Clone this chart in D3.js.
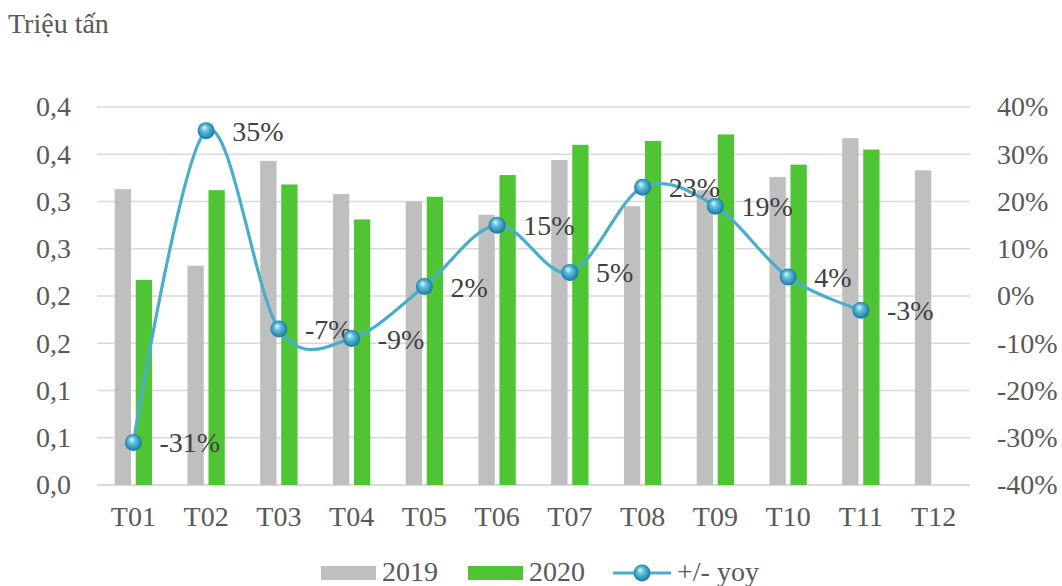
<!DOCTYPE html>
<html>
<head>
<meta charset="utf-8">
<script src="https://cdn.jsdelivr.net/npm/d3@7"></script>
<style>
  body { margin: 0; background: #fff; }
  #chart { width: 1062px; height: 586px; }
  text { font-family: 'Liberation Serif', 'Times New Roman', serif; }
</style>
</head>
<body>
<div id="chart"></div>
<script>
'use strict';

// values
const months = [ 'T01', 'T02', 'T03', 'T04', 'T05', 'T06', 'T07', 'T08', 'T09', 'T10', 'T11', 'T12' ];
const values2019 = [ 0.313, 0.232, 0.343, 0.308, 0.300, 0.286, 0.344, 0.295, 0.312, 0.326, 0.367, 0.333 ];
const values2020 = [ 0.217, 0.312, 0.318, 0.281, 0.305, 0.328, 0.360, 0.364, 0.371, 0.339, 0.355 ];
const yoyValues = [ -0.31, 0.35, -0.07, -0.09, 0.02, 0.15, 0.05, 0.23, 0.19, 0.04, -0.03 ];

const leftTicks = [ 0, 0.05, 0.1, 0.15, 0.2, 0.25, 0.3, 0.35, 0.4 ];
const leftTickLabels = [ '0,0', '0,1', '0,1', '0,2', '0,2', '0,3', '0,3', '0,4', '0,4' ];
const rightTicks = [ -0.4, -0.3, -0.2, -0.1, 0, 0.1, 0.2, 0.3, 0.4 ];
const rightTickLabels = [ '-40%', '-30%', '-20%', '-10%', '0%', '10%', '20%', '30%', '40%' ];

const seriesNames = [ '2019', '2020', '+/- yoy' ];
const unitLabel = 'Triệu tấn';


var config = {
    selector: '#chart',
    width: 1062,
    height: 586,
    left: 97,
    right: 970,
    top: 107,
    bottom: 485,
    fontSize: 28,
    fontFamily: "'Liberation Serif', 'Times New Roman', serif",
    textColor: '#595959',
    labelColor: '#404040',
    gridColor: '#d9d9d9',
    grayColor: '#bfbfbf',
    greenColor: '#4fc536',
    lineColor: '#4aaecb'
};


var Chart = function( config ) {
    var self = this;

    self.config = config;

    self.x = d3.scaleBand().domain( months ).range( [ config.left, config.right ] ).padding( 0 );

    // two bars per month, 16px each with a small gap, centred on the month
    var half = self.x.bandwidth() * 0.2565;
    self.inner = d3.scaleBand().domain( [ '2019', '2020' ] ).range( [ -half, half ] ).paddingInner( 0.224 ).paddingOuter( 0 );

    self.y = d3.scaleLinear().domain( [ 0, 0.4 ] ).range( [ config.bottom, config.top ] );

    self.y2 = d3.scaleLinear().domain( [ -0.4, 0.4 ] ).range( [ config.bottom, config.top ] );

    self.svg = null;
};


Chart.prototype.cx = function( m ) { return this.x( m ) + this.x.bandwidth() / 2; };

Chart.prototype.init = function() {
    var c = this.config;

    this.svg = d3.select( c.selector ).append('svg')
        .attr('width', c.width)
        .attr('height', c.height)
        .attr('font-family', c.fontFamily);

    var defs = this.svg.append('defs');
    var grad = defs.append('radialGradient')
        .attr('id', 'ball')
        .attr('cx', '50%').attr('cy', '50%').attr('r', '55%')
        .attr('fx', '38%').attr('fy', '30%');
    grad.append('stop').attr('offset', '0%').attr('stop-color', '#e4f8fd');
    grad.append('stop').attr('offset', '35%').attr('stop-color', '#62c2df');
    grad.append('stop').attr('offset', '80%').attr('stop-color', '#2789b1');
    grad.append('stop').attr('offset', '100%').attr('stop-color', '#1b6586');
};

Chart.prototype.drawAxes = function() {
    var c = this.config;
    var self = this;

    // gridlines
    this.svg.append('g')
        .attr('class', 'grid')
        .selectAll('line')
        .data( leftTicks )
        .enter()
            .append('line')
            .attr('x1', c.left)
            .attr('x2', c.right)
            .attr('y1', function( d ) { return self.y( d ); })
            .attr('y2', function( d ) { return self.y( d ); })
            .attr('stroke', c.gridColor)
            .attr('stroke-width', function( d ) { return d === 0 ? 2.2 : 1.5; });

    var left = this.svg.append('g')
        .attr('transform', 'translate(' + c.left + ',0)')
        .call( d3.axisLeft( this.y ).tickValues( leftTicks ).tickSize( 0 ).tickPadding( 26 )
            .tickFormat( function( d, i ) { return leftTickLabels[ i ]; }) );

    var right = this.svg.append('g')
        .attr('transform', 'translate(' + c.right + ',0)')
        .call( d3.axisRight( this.y2 ).tickValues( rightTicks ).tickSize( 0 ).tickPadding( 27 )
            .tickFormat( function( d, i ) { return rightTickLabels[ i ]; }) );

    var bottom = this.svg.append('g')
        .attr('transform', 'translate(0,' + c.bottom + ')')
        .call( d3.axisBottom( this.x ).tickSize( 0 ).tickPadding( 21 ) );

    [ left, right, bottom ].forEach( function( g ) {
        g.attr('font-family', c.fontFamily).attr('font-size', c.fontSize);
        g.select('.domain').remove();
        g.selectAll('text').attr('fill', c.textColor);
    });

    this.svg.append('text')
        .attr('x', 8)
        .attr('y', 33)
        .attr('font-size', c.fontSize)
        .attr('fill', c.textColor)
        .text( unitLabel );
};

Chart.prototype.drawBars = function() {
    var c = this.config;
    var self = this;
    var bw = this.inner.bandwidth();

    var groups = [
        { key: '2019', values: values2019, color: c.grayColor },
        { key: '2020', values: values2020, color: c.greenColor }
    ];

    groups.forEach( function( s ) {
        self.svg.append('g')
            .attr('class', 'bars-' + s.key)
            .selectAll('rect')
            .data( s.values )
            .enter()
                .append('rect')
                .attr('x', function( d, i ) { return self.cx( months[ i ] ) + self.inner( s.key ); })
                .attr('y', function( d ) { return self.y( d ); })
                .attr('width', bw)
                .attr('height', function( d ) { return self.y( 0 ) - self.y( d ); })
                .attr('fill', s.color);
    });
};

Chart.prototype.drawLine = function() {
    var c = this.config;
    var self = this;

    var pts = yoyValues.map( function( v, i ) { return [ self.cx( months[ i ] ), self.y2( v ), v ]; });

    var line = d3.line().curve( d3.curveCardinal.tension( 0 ) );

    this.svg.append('path')
        .datum( pts )
        .attr('d', line)
        .attr('fill', 'none')
        .attr('stroke', c.lineColor)
        .attr('stroke-width', 3.2);

    var marks = this.svg.append('g')
        .attr('class', 'yoy')
        .selectAll('g')
        .data( pts )
        .enter()
            .append('g')
            .attr('transform', function( d ) { return 'translate(' + d[0] + ',' + d[1] + ')'; });

    marks.append('circle')
        .attr('r', 8.5)
        .attr('fill', 'url(#ball)');

    marks.append('text')
        .attr('x', 26)
        .attr('y', 10)
        .attr('font-size', c.fontSize)
        .attr('fill', c.labelColor)
        .text( function( d ) { return Math.round( d[2] * 100 ) + '%'; });
};

Chart.prototype.drawLegend = function() {
    var c = this.config;
    var g = this.svg.append('g').attr('class', 'legend');

    g.append('rect').attr('x', 321).attr('y', 566).attr('width', 55).attr('height', 14).attr('fill', c.grayColor);
    g.append('text').attr('x', 382).attr('y', 581).attr('font-size', c.fontSize).attr('fill', c.textColor).text( seriesNames[0] );

    g.append('rect').attr('x', 468).attr('y', 566).attr('width', 55).attr('height', 14).attr('fill', c.greenColor);
    g.append('text').attr('x', 529).attr('y', 581).attr('font-size', c.fontSize).attr('fill', c.textColor).text( seriesNames[1] );

    g.append('line').attr('x1', 613).attr('x2', 671).attr('y1', 573).attr('y2', 573)
        .attr('stroke', c.lineColor).attr('stroke-width', 3.2);
    g.append('circle').attr('cx', 642).attr('cy', 573).attr('r', 8.5).attr('fill', 'url(#ball)');
    g.append('text').attr('x', 677).attr('y', 581).attr('font-size', c.fontSize).attr('fill', c.textColor).text( seriesNames[2] );
};

Chart.prototype.draw = function() {
    this.drawAxes();
    this.drawBars();
    this.drawLine();
    this.drawLegend();
};


var chart = new Chart( config );
chart.init();
chart.draw();
</script>
</body>
</html>
